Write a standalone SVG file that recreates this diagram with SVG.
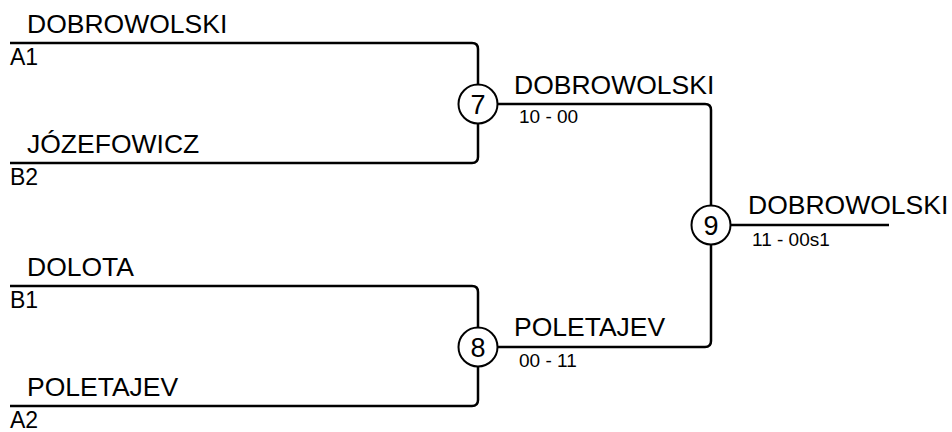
<svg xmlns="http://www.w3.org/2000/svg" width="952" height="432" viewBox="0 0 952 432">
<style>
.ln{fill:none;stroke:#000;stroke-width:2.5;stroke-linejoin:round}
.c{fill:#fff;stroke:#000;stroke-width:2}
.nm{font-family:"Liberation Sans",Arial,sans-serif;font-size:26.5px;fill:#000}
.sd{font-family:"Liberation Sans",Arial,sans-serif;font-size:23px;fill:#000}
.sc{font-family:"Liberation Sans",Arial,sans-serif;font-size:19px;fill:#000}
.num{font-family:"Liberation Sans",Arial,sans-serif;font-size:27px;fill:#000;text-anchor:middle}
</style>
<rect width="952" height="432" fill="#fff"/>
<g id="connectors">
<path class="ln" d="M10,43 H472 Q478,43 478,49 V157 Q478,163 472,163 H10"/>
<path class="ln" d="M10,286 H472 Q478,286 478,292 V400 Q478,406 472,406 H10"/>
<path class="ln" d="M478,104 H705 Q711,104 711,110 V341 Q711,347 705,347 H478"/>
<path class="ln" d="M711,225 H889"/>
</g>
<g id="entry-a1">
<text class="nm" x="27" y="33">DOBROWOLSKI</text>
<text class="sd" x="10" y="65">A1</text>
</g>
<g id="entry-b2">
<text class="nm" x="27" y="153">JÓZEFOWICZ</text>
<text class="sd" x="10" y="185">B2</text>
</g>
<g id="entry-b1">
<text class="nm" x="27" y="276">DOLOTA</text>
<text class="sd" x="10" y="308">B1</text>
</g>
<g id="entry-a2">
<text class="nm" x="27" y="396">POLETAJEV</text>
<text class="sd" x="10" y="428">A2</text>
</g>
<g id="match-7">
<circle class="c" cx="478" cy="104" r="19.5"/>
<text class="num" x="478" y="114">7</text>
<text class="nm" x="514" y="94">DOBROWOLSKI</text>
<text class="sc" x="519" y="123">10 - 00</text>
</g>
<g id="match-8">
<circle class="c" cx="478" cy="347" r="19.5"/>
<text class="num" x="478" y="357">8</text>
<text class="nm" x="514" y="336">POLETAJEV</text>
<text class="sc" x="519" y="367">00 - 11</text>
</g>
<g id="match-9">
<circle class="c" cx="711" cy="225" r="19.5"/>
<text class="num" x="711" y="235">9</text>
<text class="nm" x="748" y="214">DOBROWOLSKI</text>
<text class="sc" x="752" y="246">11 - 00s1</text>
</g>
</svg>
